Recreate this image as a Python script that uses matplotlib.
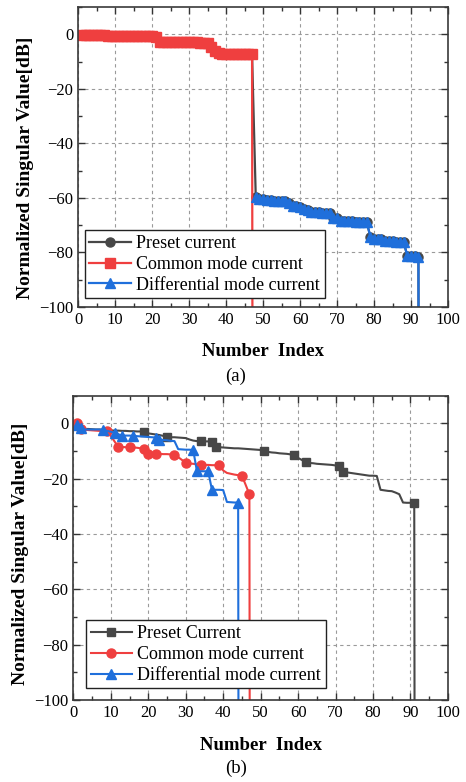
import matplotlib.pyplot as plt
from matplotlib.ticker import MultipleLocator

# ---- data (a) ----
# index 1..48, last value = numerically zero singular value
top_cm = [-0.1, -0.1, -0.2, -0.2, -0.2, -0.3, -0.3,
          -0.6, -0.6, -0.6, -0.7, -0.7, -0.7, -0.7, -0.7, -0.8, -0.8, -0.8, -0.8, -0.8, -0.9,
          -2.8, -2.8, -2.9, -2.9, -2.9, -2.9, -3.0, -3.0, -3.0, -3.0, -3.0, -3.1, -3.1, -3.1,
          -4.8, -6.2,
          -7.0, -7.1, -7.1, -7.2, -7.2, -7.2, -7.3, -7.3, -7.3, -7.3,
          -1000]
# index 48..93
top_dm = [-59.6,
          -60.4, -60.5, -60.6, -60.7,
          -61.1, -61.2, -61.2, -61.3,
          -61.9,
          -63.0, -63.1, -63.2,
          -64.2, -64.4,
          -65.0, -65.1, -65.2,
          -65.5, -65.5, -65.6,
          -67.2, -67.4,
          -68.4, -68.5, -68.6, -68.6, -68.7, -68.7, -68.8, -68.8,
          -74.2,
          -75.0, -75.1, -75.2,
          -75.8, -75.9, -75.9, -76.0, -76.0, -76.1,
          -81.3, -81.4, -81.4, -81.5,
          -1000]
top_preset = top_cm[:-1] + top_dm

# ---- data (b) ----
bot_preset = [-0.5, -1.5, -2.0, -2.0, -2.1, -2.2, -2.2, -2.3, -2.4, -2.5,
              -2.6, -2.6, -2.7, -2.7, -2.8, -2.8, -2.9, -2.9, -3.0, -3.6,
              -3.8, -4.0, -4.2, -4.5, -4.8, -5.0, -5.0, -5.1, -5.2, -5.3,
              -5.8, -6.2, -6.4, -6.5, -6.5, -6.5, -6.6, -8.5, -8.6, -8.7,
              -8.8, -8.9, -9.0, -9.0, -9.1, -9.2, -9.3, -9.4, -9.5, -9.6,
              -9.8, -10.3, -10.5, -10.6, -10.8, -10.9, -11.0, -11.2, -11.4, -12.5,
              -13.2, -14.1, -14.3, -14.4, -14.6, -14.7, -14.8, -14.9, -15.0, -15.2,
              -15.3, -17.5, -17.7, -17.9, -18.1, -18.3, -18.5, -18.7, -18.9, -18.9,
              -19.0, -24.0, -24.2, -24.4, -24.5, -25.0, -25.6, -28.6, -28.7, -28.7,
              -28.7, -1000]
bot_cm = [0.0, -2.0, -2.2, -2.4, -2.5, -2.6, -2.7, -2.8, -2.9, -4.5,
          -6.5, -8.5, -8.5, -8.6, -8.6, -8.7, -8.8, -9.0, -9.3, -11.0,
          -11.0, -11.0, -11.0, -11.1, -11.1, -11.2, -11.3, -12.2, -13.2, -14.3,
          -14.5, -14.6, -14.8, -14.9, -15.0, -15.0, -15.1, -15.1, -15.2, -17.0,
          -17.9, -18.2, -18.5, -18.7, -18.9, -22.2, -25.6, -1000]
bot_dm = [-0.5, -1.5, -2.2, -2.2, -2.2, -2.2, -2.2, -2.3, -2.7, -3.0,
          -3.4, -3.9, -4.4, -4.4, -4.4, -4.5, -4.6, -4.7, -4.8, -4.9,
          -5.0, -5.1, -5.9, -6.0, -6.1, -6.3, -6.4, -9.3, -9.4, -9.5,
          -9.5, -9.6, -17.3, -17.3, -17.3, -17.3, -24.0, -24.0, -24.0, -24.1,
          -28.4, -28.5, -28.6, -28.6, -1000]
# indices (1-based) where markers are drawn in (b)
bot_preset_marks = [1, 19, 25, 34, 37, 38, 51, 59, 62, 71, 72, 91]
bot_cm_marks = [1, 2, 9, 12, 15, 19, 20, 22, 27, 30, 34, 39, 45, 47]
bot_dm_marks = [1, 2, 8, 11, 13, 16, 22, 23, 32, 33, 36, 37, 44]

labels_a = ['Preset current', 'Common mode current', 'Differential mode current']
labels_b = ['Preset Current', 'Common mode current', 'Differential mode current']

GRAY = '#474747'
RED = '#ef3f3f'
BLUE = '#1f6fdb'

plt.rcParams['font.family'] = ['Liberation Serif', 'DejaVu Serif']


def style(ax):
    ax.set_xlim(0, 100)
    ax.set_ylim(-100, 10)
    ax.xaxis.set_major_locator(MultipleLocator(10))
    ax.xaxis.set_minor_locator(MultipleLocator(5))
    ax.yaxis.set_major_locator(MultipleLocator(20))
    ax.yaxis.set_minor_locator(MultipleLocator(10))
    ax.tick_params(which='both', direction='in', top=True, right=True,
                   labelsize=12, color='#333333', width=1.0)
    ax.tick_params(which='major', length=5)
    ax.tick_params(which='minor', length=3)
    ax.grid(which='major', ls=(0, (3, 3)), color='#9a9a9a', lw=0.8)
    ax.set_axisbelow(True)
    for sp in ax.spines.values():
        sp.set_linewidth(1.2)
        sp.set_color('#3a3a3a')


def legend(ax, labels, anchor):
    leg = ax.legend(labels, loc='lower left', bbox_to_anchor=anchor,
                    borderaxespad=0, fontsize=13, fancybox=False,
                    edgecolor='#222222', framealpha=1, handlelength=2.3,
                    handletextpad=0.3, labelspacing=0.22, borderpad=0.25)
    leg.get_frame().set_linewidth(1.0)


fig = plt.figure(figsize=(4.66, 7.82), dpi=100)
ax1 = fig.add_axes([0.168, 0.6074, 0.7934, 0.3836])
ax2 = fig.add_axes([0.1573, 0.1049, 0.804, 0.389])

# (a)
x_pre = list(range(1, len(top_preset) + 1))
x_cm = list(range(1, len(top_cm) + 1))
x_dm = list(range(48, 48 + len(top_dm)))
ax1.plot(x_pre, top_preset, color=GRAY, marker='o', ms=6.5, lw=1.6)
ax1.plot(x_cm, top_cm, color=RED, marker='s', ms=6.5, lw=1.6)
ax1.plot(x_dm, top_dm, color=BLUE, marker='^', ms=7, lw=1.6)
style(ax1)
legend(ax1, labels_a, (0.018, 0.029))

# (b)
ax2.plot(range(1, len(bot_preset) + 1), bot_preset, color=GRAY, marker='s', ms=6, lw=1.5,
         markevery=[i - 1 for i in bot_preset_marks])
ax2.plot(range(1, len(bot_cm) + 1), bot_cm, color=RED, marker='o', ms=6.5, lw=1.5,
         markevery=[i - 1 for i in bot_cm_marks])
ax2.plot(range(1, len(bot_dm) + 1), bot_dm, color=BLUE, marker='^', ms=6.5, lw=1.5,
         markevery=[i - 1 for i in bot_dm_marks])
style(ax2)
legend(ax2, labels_b, (0.034, 0.038))

ylab = 'Normalized Singular Value[dB]'
fig.text(0.054, 0.786, ylab, rotation=90, ha='center', va='center', fontsize=14, fontweight='bold')
fig.text(0.043, 0.292, ylab, rotation=90, ha='center', va='center', fontsize=14, fontweight='bold')
fig.text(0.564, 0.5503, 'Number  Index', ha='center', va='center', fontsize=13.5, fontweight='bold')
fig.text(0.56, 0.047, 'Number  Index', ha='center', va='center', fontsize=13.5, fontweight='bold')
fig.text(0.506, 0.519, '(a)', ha='center', va='center', fontsize=13.5)
fig.text(0.506, 0.018, '(b)', ha='center', va='center', fontsize=13.5)

fig.savefig('out.png', dpi=100)
